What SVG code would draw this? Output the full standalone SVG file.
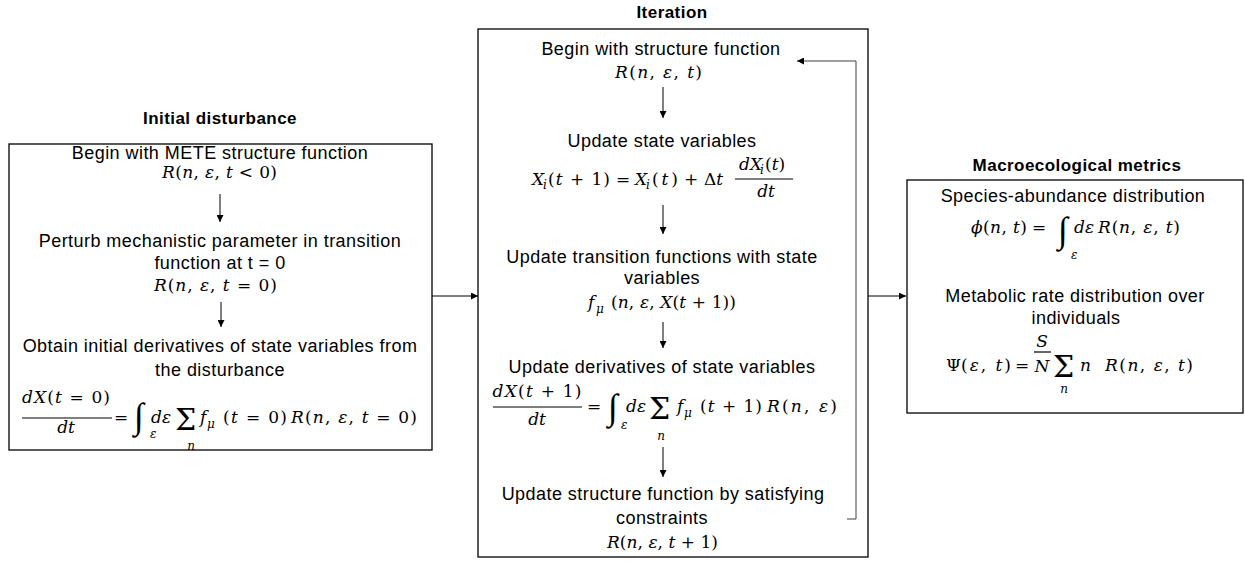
<svg xmlns="http://www.w3.org/2000/svg" width="1245" height="563" viewBox="0 0 1245 563">
<defs>
<style>
.box{fill:#fff;stroke:#000;stroke-width:1.3}
.t{font-family:"Liberation Sans",Arial,sans-serif;font-size:18px;letter-spacing:0.45px;fill:#000;text-anchor:middle}
.h{font-family:"Liberation Sans",Arial,sans-serif;font-size:17px;font-weight:bold;letter-spacing:0.45px;fill:#000;text-anchor:middle}
.m{font-family:"DejaVu Serif","Liberation Serif",serif;font-size:17px;fill:#000}
.i{font-style:italic}
.s{font-family:"DejaVu Serif","Liberation Serif",serif;font-size:12px;font-style:italic;fill:#000}
.int{font-family:"Liberation Serif","DejaVu Serif",serif;font-size:36px;fill:#000}
.sum{font-family:"DejaVu Serif","Liberation Serif",serif;font-size:30px;fill:#000}
.c{text-anchor:middle}
.bar{stroke:#000;stroke-width:1.2}
.ar{fill:none;stroke:#000;stroke-width:1}
.fb{fill:none;stroke:#404040;stroke-width:1}
</style>
<marker id="ah" viewBox="0 0 10 10" refX="10" refY="5" markerWidth="7" markerHeight="7" markerUnits="userSpaceOnUse" orient="auto">
<path d="M0,0 L10,5 L0,10 z" fill="#000"/>
</marker>
</defs>
<rect width="1245" height="563" fill="#fff"/>

<g id="initial">
<text class="h" x="220" y="124">Initial disturbance</text>
<rect class="box" x="9" y="144" width="423" height="306"/>
<text class="t" x="220" y="159">Begin with METE structure function</text>
<text class="m" x="162" y="178" textLength="115" lengthAdjust="spacing"><tspan class="i">R</tspan>(<tspan class="i">n</tspan>, <tspan class="i">ε</tspan>, <tspan class="i">t</tspan> &lt; 0)</text>
<text class="t" x="220" y="247">Perturb mechanistic parameter in transition</text>
<text class="t" x="220" y="269">function at t = 0</text>
<text class="m" x="154" y="291" textLength="123" lengthAdjust="spacing"><tspan class="i">R</tspan>(<tspan class="i">n</tspan>, <tspan class="i">ε</tspan>, <tspan class="i">t</tspan> = 0)</text>
<text class="t" x="220" y="352">Obtain initial derivatives of state variables from</text>
<text class="t" x="220" y="376">the disturbance</text>
<text class="m c" x="66" y="403" textLength="88" lengthAdjust="spacing"><tspan class="i">dX</tspan>(<tspan class="i">t</tspan> = 0)</text>
<line class="bar" x1="22" y1="418" x2="112" y2="418"/>
<text class="m i c" x="66" y="433">dt</text>
<text class="m" x="114" y="423">=</text>
<text class="int" x="134" y="428">∫</text>
<text class="s" x="150" y="438">ε</text>
<text class="m i" x="151" y="423">dε</text>
<text class="sum" x="175" y="430">Σ</text>
<text class="s c" x="191" y="450" font-size="13">n</text>
<text class="m i" x="200" y="423">f</text>
<text class="s" x="207" y="428">μ</text>
<text class="m" x="223" y="423" textLength="64" lengthAdjust="spacing">(<tspan class="i">t</tspan> = 0)</text>
<text class="m" x="291" y="423" textLength="126" lengthAdjust="spacing"><tspan class="i">R</tspan>(<tspan class="i">n</tspan>, <tspan class="i">ε</tspan>, <tspan class="i">t</tspan> = 0)</text>
</g>

<g id="iteration">
<text class="h" x="672" y="18">Iteration</text>
<rect class="box" x="478" y="29" width="390" height="528"/>
<text class="t" x="661" y="55">Begin with structure function</text>
<text class="m" x="615" y="78" textLength="87" lengthAdjust="spacing"><tspan class="i">R</tspan>(<tspan class="i">n</tspan>, <tspan class="i">ε</tspan>, <tspan class="i">t</tspan>)</text>
<text class="t" x="662" y="147">Update state variables</text>
<text class="m i" x="532" y="185">X</text>
<text class="s" x="543" y="189">i</text>
<text class="m" x="548" y="185" textLength="62" lengthAdjust="spacing">(<tspan class="i">t</tspan> + 1)</text>
<text class="m" x="616" y="185">=</text>
<text class="m i" x="635" y="185">X</text>
<text class="s" x="646" y="189">i</text>
<text class="m" x="652" y="185" textLength="26" lengthAdjust="spacing">(<tspan class="i">t</tspan>)</text>
<text class="m" x="684" y="185">+</text>
<text class="m" x="704" y="185">Δ<tspan class="i">t</tspan></text>
<text class="m i" x="739" y="170">dX</text>
<text class="s" x="760" y="174">i</text>
<text class="m" x="765" y="170">(<tspan class="i">t</tspan>)</text>
<line class="bar" x1="735" y1="179" x2="793" y2="179"/>
<text class="m i c" x="766" y="197">dt</text>
<text class="t" x="662" y="263">Update transition functions with state</text>
<text class="t" x="662" y="284">variables</text>
<text class="m i" x="588" y="308">f</text>
<text class="s" x="596" y="313">μ</text>
<text class="m" x="611" y="308" textLength="125" lengthAdjust="spacing">(<tspan class="i">n</tspan>, <tspan class="i">ε</tspan>, <tspan class="i">X</tspan>(<tspan class="i">t</tspan> + 1))</text>
<text class="t" x="662" y="373">Update derivatives of state variables</text>
<text class="m c" x="537" y="397" textLength="89" lengthAdjust="spacing"><tspan class="i">dX</tspan>(<tspan class="i">t</tspan> + 1)</text>
<line class="bar" x1="493" y1="407" x2="582" y2="407"/>
<text class="m i c" x="537" y="425">dt</text>
<text class="m" x="587" y="412">=</text>
<text class="int" x="608" y="419">∫</text>
<text class="s" x="621" y="429">ε</text>
<text class="m i" x="626" y="412">dε</text>
<text class="sum" x="649" y="419">Σ</text>
<text class="s c" x="661" y="440" font-size="13">n</text>
<text class="m i" x="677" y="412">f</text>
<text class="s" x="684" y="417">μ</text>
<text class="m" x="700" y="412" textLength="62" lengthAdjust="spacing">(<tspan class="i">t</tspan> + 1)</text>
<text class="m" x="767" y="412" textLength="70" lengthAdjust="spacing"><tspan class="i">R</tspan>(<tspan class="i">n</tspan>, <tspan class="i">ε</tspan>)</text>
<text class="t" x="663" y="500">Update structure function by satisfying</text>
<text class="t" x="662" y="524">constraints</text>
<text class="m" x="607" y="548" textLength="111" lengthAdjust="spacing"><tspan class="i">R</tspan>(<tspan class="i">n</tspan>, <tspan class="i">ε</tspan>, <tspan class="i">t</tspan> + 1)</text>
</g>

<g id="metrics">
<text class="h" x="1077" y="171">Macroecological metrics</text>
<rect class="box" x="907" y="180" width="336" height="233"/>
<text class="t" x="1073" y="202">Species-abundance distribution</text>
<text class="m i" x="971" y="233">ϕ</text>
<text class="m" x="983" y="233" textLength="44" lengthAdjust="spacing">(<tspan class="i">n</tspan>, <tspan class="i">t</tspan>)</text>
<text class="m" x="1032" y="233">=</text>
<text class="int" x="1058" y="242">∫</text>
<text class="s" x="1071" y="259">ε</text>
<text class="m i" x="1074" y="233">dε</text>
<text class="m" x="1098" y="233" textLength="82" lengthAdjust="spacing"><tspan class="i">R</tspan>(<tspan class="i">n</tspan>, <tspan class="i">ε</tspan>, <tspan class="i">t</tspan>)</text>
<text class="t" x="1075" y="302">Metabolic rate distribution over</text>
<text class="t" x="1076" y="324">individuals</text>
<text class="m" x="946" y="371">Ψ</text>
<text class="m" x="961" y="371" textLength="50" lengthAdjust="spacing">(<tspan class="i">ε</tspan>, <tspan class="i">t</tspan>)</text>
<text class="m" x="1015" y="371">=</text>
<text class="m i c" x="1042" y="347">S</text>
<line class="bar" x1="1034" y1="352" x2="1051" y2="352"/>
<text class="m i c" x="1042" y="372">N</text>
<text class="sum" x="1053" y="377">Σ</text>
<text class="s c" x="1064" y="393" font-size="13">n</text>
<text class="m i" x="1080" y="371">n</text>
<text class="m" x="1105" y="371" textLength="88" lengthAdjust="spacing"><tspan class="i">R</tspan>(<tspan class="i">n</tspan>, <tspan class="i">ε</tspan>, <tspan class="i">t</tspan>)</text>
</g>

<g id="connectors">
<line class="ar" x1="220" y1="194" x2="220" y2="222" marker-end="url(#ah)"/>
<line class="ar" x1="221" y1="302" x2="221" y2="327" marker-end="url(#ah)"/>
<line class="ar" x1="663" y1="87" x2="663" y2="118" marker-end="url(#ah)"/>
<line class="ar" x1="663" y1="205" x2="663" y2="234" marker-end="url(#ah)"/>
<line class="ar" x1="663" y1="322" x2="663" y2="348" marker-end="url(#ah)"/>
<line class="ar" x1="663" y1="447" x2="663" y2="477" marker-end="url(#ah)"/>
<line class="ar" x1="432" y1="296" x2="478" y2="296" marker-end="url(#ah)"/>
<line class="ar" x1="868" y1="296" x2="906" y2="296" marker-end="url(#ah)"/>
<polyline class="fb" points="847,519 856,519 856,61 797,61" marker-end="url(#ah)"/>
</g>
</svg>
